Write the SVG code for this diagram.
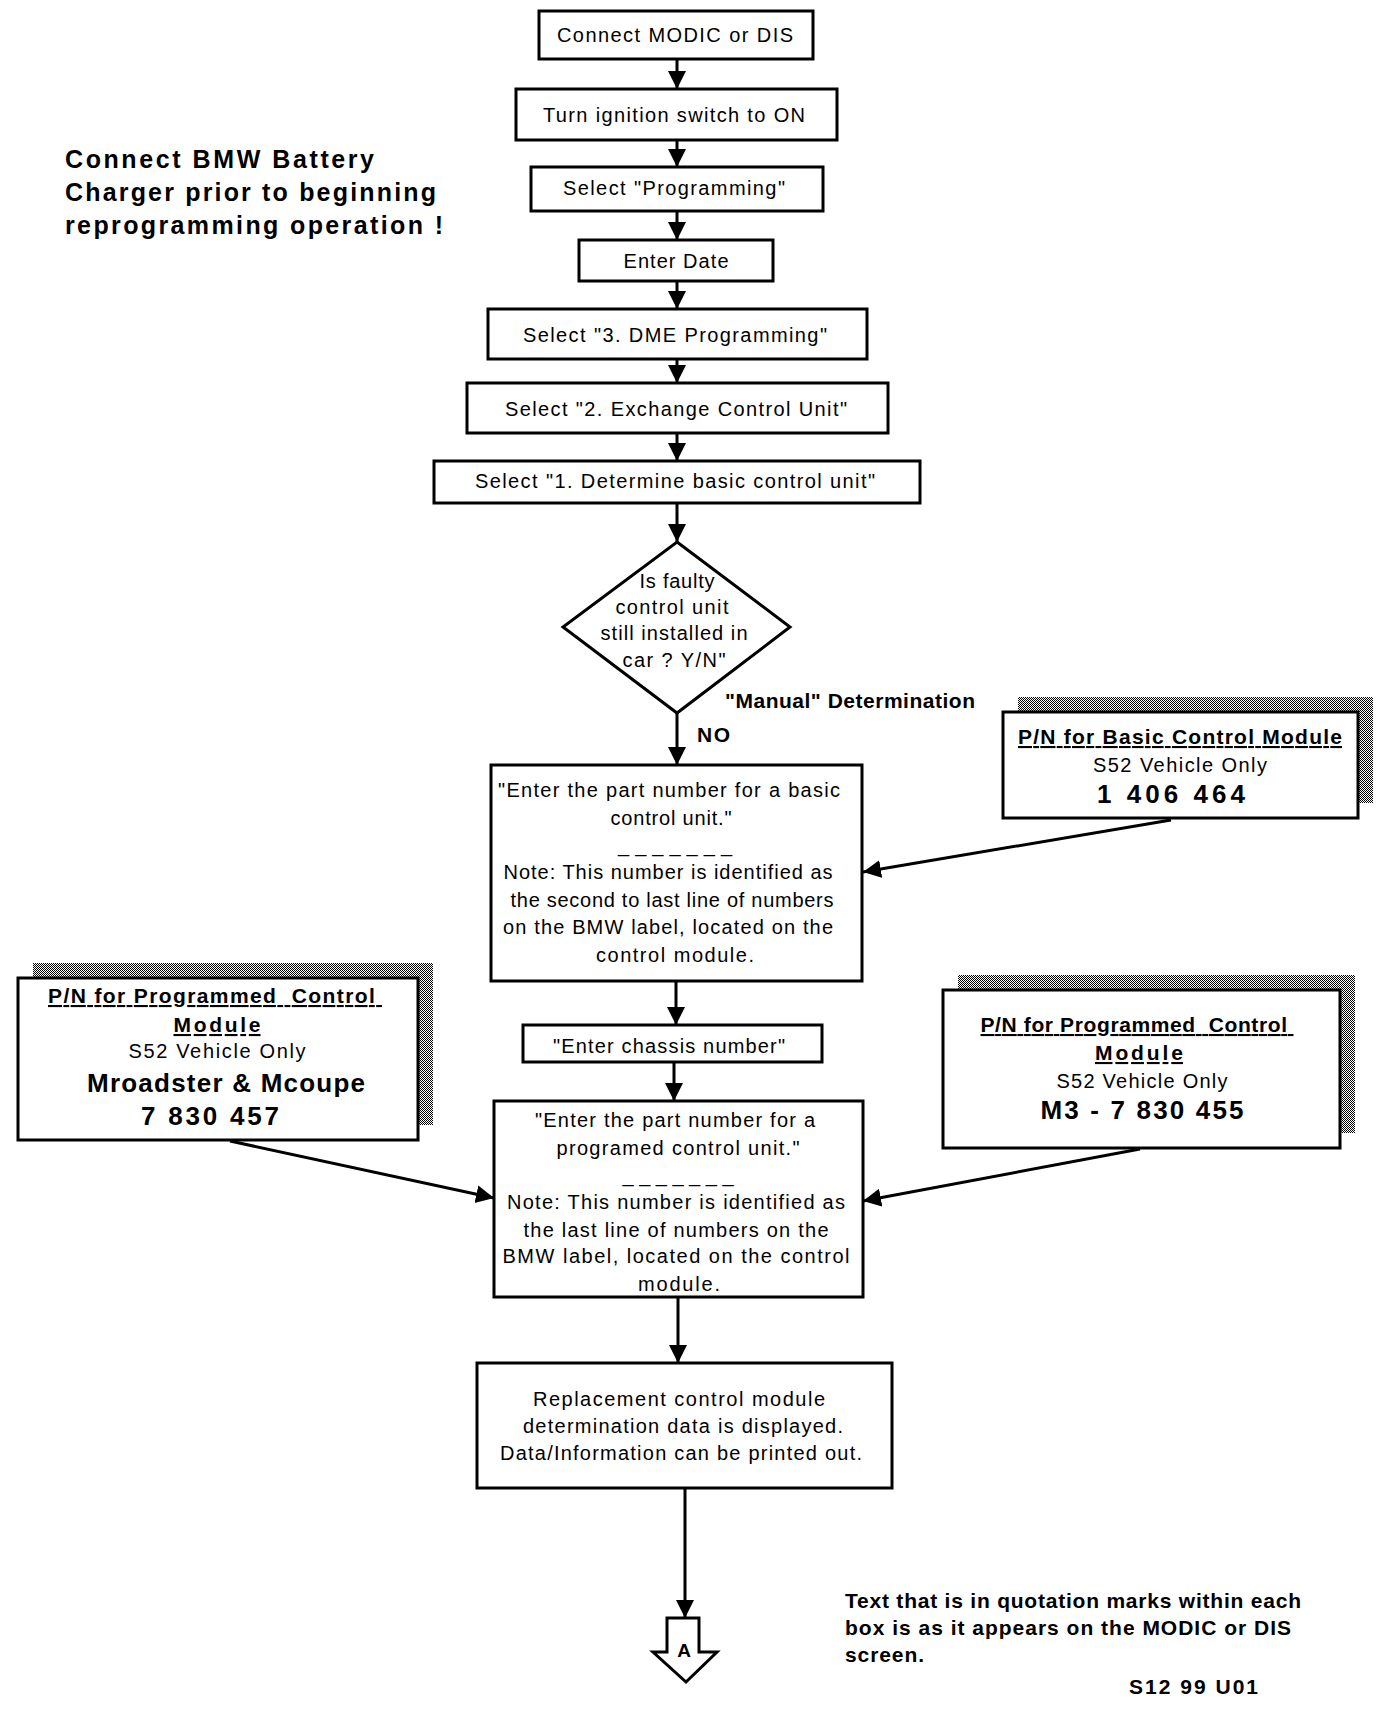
<svg xmlns="http://www.w3.org/2000/svg" width="1392" height="1718" viewBox="0 0 1392 1718">
<defs>
<style>
.box{fill:#fff;stroke:#000;stroke-width:3}
.t{font-family:"Liberation Sans",Arial,sans-serif;font-size:20px;fill:#000;text-anchor:middle}
.b{font-family:"Liberation Sans",Arial,sans-serif;font-weight:bold;font-size:21px;fill:#000}
.bc{text-anchor:middle}
.u{text-decoration:underline}
.big{font-size:26px}
.note{font-size:25px}
.a{font-size:19px}
.con{stroke:#000;stroke-width:3;fill:none;marker-end:url(#ah)}
</style>
<marker id="ah" markerUnits="userSpaceOnUse" markerWidth="20" markerHeight="20" refX="18" refY="9" orient="auto">
<path d="M0,0 L18,9 L0,18 Z" fill="#000"/>
</marker>
<pattern id="dith" width="2" height="2" patternUnits="userSpaceOnUse">
<rect width="2" height="2" fill="#fff"/>
<rect x="0" y="0" width="1" height="1" fill="#000"/>
<rect x="1" y="1" width="1" height="1" fill="#000"/>
</pattern>
</defs>
<rect width="1392" height="1718" fill="#fff"/>

<g id="connectors">
<line class="con" x1="677" y1="59" x2="677" y2="89"/>
<line class="con" x1="677" y1="140" x2="677" y2="167"/>
<line class="con" x1="677" y1="211" x2="677" y2="240"/>
<line class="con" x1="677" y1="281" x2="677" y2="309"/>
<line class="con" x1="677" y1="359" x2="677" y2="383"/>
<line class="con" x1="677" y1="433" x2="677" y2="461"/>
<line class="con" x1="677" y1="503" x2="677" y2="542"/>
<line class="con" x1="677" y1="713" x2="677" y2="765"/>
<line class="con" x1="1171" y1="820" x2="863" y2="872"/>
<line class="con" x1="676" y1="981" x2="676" y2="1025"/>
<line class="con" x1="674" y1="1062" x2="674" y2="1101"/>
<line class="con" x1="230" y1="1141" x2="494" y2="1198"/>
<line class="con" x1="1140" y1="1149" x2="863" y2="1201"/>
<line class="con" x1="678" y1="1297" x2="678" y2="1363"/>
<line class="con" x1="685" y1="1488" x2="685" y2="1618"/>
</g>

<g id="note-battery">
<text class="b note" x="65" y="168" textLength="309" lengthAdjust="spacing">Connect BMW Battery</text>
<text class="b note" x="65" y="201" textLength="371" lengthAdjust="spacing">Charger prior to beginning</text>
<text class="b note" x="65" y="234" textLength="378" lengthAdjust="spacing">reprogramming operation !</text>
</g>

<g id="n1">
<rect class="box" x="539" y="11" width="274" height="48"/>
<text class="t" x="675" y="42" textLength="236" lengthAdjust="spacing">Connect MODIC or DIS</text>
</g>
<g id="n2">
<rect class="box" x="516" y="89" width="321" height="51"/>
<text class="t" x="674" y="122" textLength="262" lengthAdjust="spacing">Turn ignition switch to ON</text>
</g>
<g id="n3">
<rect class="box" x="531" y="167" width="292" height="44"/>
<text class="t" x="674" y="195" textLength="222" lengthAdjust="spacing">Select "Programming"</text>
</g>
<g id="n4">
<rect class="box" x="579" y="240" width="194" height="41"/>
<text class="t" x="676" y="268" textLength="105" lengthAdjust="spacing">Enter Date</text>
</g>
<g id="n5">
<rect class="box" x="488" y="309" width="379" height="50"/>
<text class="t" x="675" y="342" textLength="304" lengthAdjust="spacing">Select "3. DME Programming"</text>
</g>
<g id="n6">
<rect class="box" x="467" y="383" width="421" height="50"/>
<text class="t" x="676" y="416" textLength="342" lengthAdjust="spacing">Select "2. Exchange Control Unit"</text>
</g>
<g id="n7">
<rect class="box" x="434" y="461" width="486" height="42"/>
<text class="t" x="675" y="488" textLength="400" lengthAdjust="spacing">Select "1. Determine basic control unit"</text>
</g>

<g id="decision">
<polygon class="box" points="677,542 790,627 677,713 563,627"/>
<text class="t" x="677" y="588" textLength="75" lengthAdjust="spacing">Is faulty</text>
<text class="t" x="672" y="614" textLength="113" lengthAdjust="spacing">control unit</text>
<text class="t" x="674" y="640" textLength="147" lengthAdjust="spacing">still installed in</text>
<text class="t" x="674" y="667" textLength="103" lengthAdjust="spacing">car ? Y/N"</text>
</g>

<g id="label-manual">
<text class="b" x="725" y="708" textLength="250" lengthAdjust="spacing">"Manual" Determination</text>
<text class="b" x="697" y="742" textLength="33" lengthAdjust="spacing">NO</text>
</g>

<g id="n8">
<rect class="box" x="491" y="765" width="371" height="216"/>
<text class="t" x="669" y="797" textLength="342" lengthAdjust="spacing">"Enter the part number for a basic</text>
<text class="t" x="671" y="825" textLength="121" lengthAdjust="spacing">control unit."</text>
<text class="t" x="675" y="852" textLength="114" lengthAdjust="spacing">_ _ _ _ _ _ _</text>
<text class="t" x="668" y="879" textLength="329" lengthAdjust="spacing">Note: This number is identified as</text>
<text class="t" x="672" y="907" textLength="323" lengthAdjust="spacing">the second to last line of numbers</text>
<text class="t" x="668" y="934" textLength="330" lengthAdjust="spacing">on the BMW label, located on the</text>
<text class="t" x="675" y="962" textLength="158" lengthAdjust="spacing">control module.</text>
</g>

<g id="pn-basic">
<rect x="1018" y="697" width="355" height="106" fill="url(#dith)"/>
<rect class="box" x="1003" y="712" width="355" height="106"/>
<text class="b bc u" x="1180" y="744" textLength="324" lengthAdjust="spacing">P/N for Basic Control Module</text>
<text class="t" x="1180" y="772" textLength="174" lengthAdjust="spacing">S52 Vehicle Only</text>
<text class="b bc big" x="1171" y="803" textLength="148" lengthAdjust="spacing">1 406 464</text>
</g>

<g id="pn-prog-left">
<rect x="33" y="963" width="400" height="162" fill="url(#dith)"/>
<rect class="box" x="18" y="978" width="400" height="162"/>
<text class="b bc u" x="215" y="1003" textLength="334" lengthAdjust="spacing" xml:space="preserve">P/N for Programmed  Control </text>
<text class="b bc u" x="217" y="1032" textLength="87" lengthAdjust="spacing">Module</text>
<text class="t" x="217" y="1058" textLength="177" lengthAdjust="spacing">S52 Vehicle Only</text>
<text class="b bc big" x="226" y="1092" textLength="278" lengthAdjust="spacing">Mroadster &amp; Mcoupe</text>
<text class="b bc big" x="210" y="1125" textLength="138" lengthAdjust="spacing">7 830 457</text>
</g>

<g id="pn-prog-right">
<rect x="958" y="975" width="397" height="158" fill="url(#dith)"/>
<rect class="box" x="943" y="990" width="397" height="158"/>
<text class="b bc u" x="1137" y="1032" textLength="313" lengthAdjust="spacing" xml:space="preserve">P/N for Programmed  Control </text>
<text class="b bc u" x="1139" y="1060" textLength="88" lengthAdjust="spacing">Module</text>
<text class="t" x="1142" y="1088" textLength="171" lengthAdjust="spacing">S52 Vehicle Only</text>
<text class="b bc big" x="1142" y="1119" textLength="203" lengthAdjust="spacing">M3 - 7 830 455</text>
</g>

<g id="n9">
<rect class="box" x="523" y="1025" width="299" height="37"/>
<text class="t" x="669" y="1053" textLength="232" lengthAdjust="spacing">"Enter chassis number"</text>
</g>

<g id="n10">
<rect class="box" x="494" y="1101" width="369" height="196"/>
<text class="t" x="675" y="1127" textLength="280" lengthAdjust="spacing">"Enter the part number for a</text>
<text class="t" x="678" y="1155" textLength="243" lengthAdjust="spacing">programed control unit."</text>
<text class="t" x="678" y="1182" textLength="111" lengthAdjust="spacing">_ _ _ _ _ _ _</text>
<text class="t" x="676" y="1209" textLength="338" lengthAdjust="spacing">Note: This number is identified as</text>
<text class="t" x="676" y="1237" textLength="305" lengthAdjust="spacing">the last line of numbers on the</text>
<text class="t" x="676" y="1263" textLength="347" lengthAdjust="spacing">BMW label, located on the control</text>
<text class="t" x="679" y="1291" textLength="82" lengthAdjust="spacing">module.</text>
</g>

<g id="n11">
<rect class="box" x="477" y="1363" width="415" height="125"/>
<text class="t" x="679" y="1406" textLength="292" lengthAdjust="spacing">Replacement control module</text>
<text class="t" x="683" y="1433" textLength="320" lengthAdjust="spacing">determination data is displayed.</text>
<text class="t" x="681" y="1460" textLength="362" lengthAdjust="spacing">Data/Information can be printed out.</text>
</g>

<g id="offpage-A">
<path class="box" d="M667,1618 L699,1618 L699,1652 L717,1652 L686,1682 L653,1652 L667,1652 Z"/>
<text class="b bc a" x="684" y="1657">A</text>
</g>

<g id="note-quotes">
<text class="b" x="845" y="1608" textLength="456" lengthAdjust="spacing">Text that is in quotation marks within each</text>
<text class="b" x="845" y="1635" textLength="446" lengthAdjust="spacing">box is as it appears on the MODIC or DIS</text>
<text class="b" x="845" y="1662" textLength="79" lengthAdjust="spacing">screen.</text>
<text class="b" x="1129" y="1694" textLength="129" lengthAdjust="spacing">S12 99 U01</text>
</g>
</svg>
